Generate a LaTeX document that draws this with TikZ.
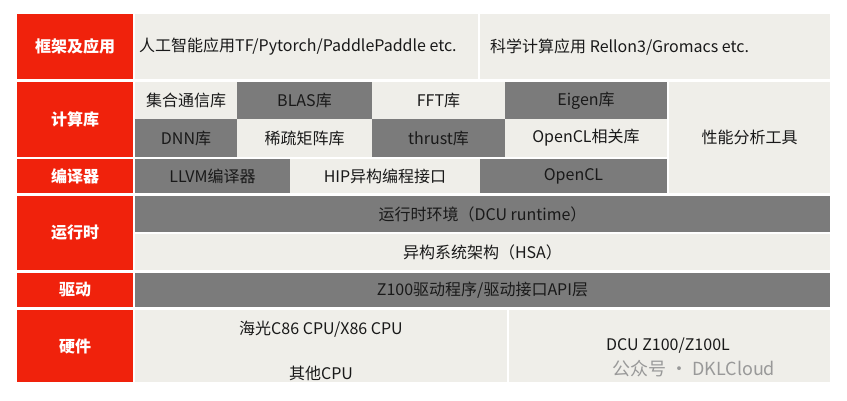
\documentclass[tikz,border=0pt]{standalone}
\usepackage{fontspec}
\setmainfont{Noto Sans CJK SC}
\usetikzlibrary{calc}
\definecolor{hdred}{HTML}{F0220C}
\definecolor{dkgray}{HTML}{7B7B7B}
\definecolor{ltgray}{HTML}{EFEEE9}
\tikzset{
    cell/.style={inner sep=0pt, font=\fontsize{16}{18}\selectfont, text=black!90},
    dark/.style={cell, fill=dkgray},
    light/.style={cell, fill=ltgray},
    head/.style={cell, fill=hdred, text=white, font=\fontsize{16}{18}\selectfont\bfseries},
}
% \cell{name}{style}{x1}{y1}{x2}{y2}{text}
\newcommand\cell[7]{%
    \node[#2, minimum width=#5-#3, minimum height=#6-#4] (#1)
        at ({(#3+#5)/2},{(#4+#6)/2}) {#7};}

\begin{document}
\begin{tikzpicture}[x=1pt, y=-1pt]
    \useasboundingbox[fill=white] (0,0) rectangle (847,400);

    % left column
    \cell{hApp}{head}{17}{14}{133}{79}{框架及应用}
    \cell{hLib}{head}{17}{82}{133}{157}{计算库}
    \cell{hCmp}{head}{17}{159}{133}{193}{编译器}
    \cell{hRt}{head}{17}{196}{133}{270}{运行时}
    \cell{hDrv}{head}{17}{273}{133}{307}{驱动}
    \cell{hHw}{head}{17}{310}{133}{382}{硬件}

    % frameworks
    \cell{ai}{light}{135}{14}{478}{79}{}
    \node[cell, anchor=west] (aiT) at (139,47) {人工智能应用TF/Pytorch/PaddlePaddle etc.};
    \cell{sci}{light}{480}{14}{830}{79}{}
    \node[cell, anchor=west] (sciT) at (490,47) {科学计算应用 Rellon3/Gromacs etc.};

    % libraries
    \cell{coll}{light}{135}{82}{237}{119}{集合通信库}
    \cell{blas}{dark}{237}{82}{372}{119}{BLAS库}
    \cell{fft}{light}{372}{82}{505}{119}{FFT库}
    \cell{eigen}{dark}{505}{82}{667}{119}{Eigen库}
    \cell{dnn}{dark}{135}{119}{237}{157}{DNN库}
    \cell{sparse}{light}{237}{119}{372}{157}{稀疏矩阵库}
    \cell{thrust}{dark}{372}{119}{505}{157}{thrust库}
    \cell{oclLib}{light}{505}{119}{667}{157}{OpenCL相关库}
    \cell{prof}{light}{669}{82}{830}{193}{性能分析工具}

    % compilers
    \cell{llvm}{dark}{135}{159}{290}{193}{LLVM编译器}
    \cell{hip}{light}{290}{159}{480}{193}{HIP异构编程接口}
    \cell{ocl}{dark}{480}{159}{667}{193}{OpenCL}

    % runtime, driver
    \cell{dcuRt}{dark}{135}{196}{830}{232}{运行时环境（DCU runtime）}
    \cell{hsa}{light}{135}{234}{830}{270}{异构系统架构（HSA）}
    \cell{drv}{dark}{135}{273}{830}{307}{Z100驱动程序/驱动接口API层}

    % hardware
    \cell{cpu}{light}{135}{310}{507}{382}{}
    \node[cell] (cpuA) at (321,329) {海光C86 CPU/X86 CPU};
    \node[cell] (cpuB) at (321,373) {其他CPU};
    \cell{dcu}{light}{509}{310}{830}{382}{}
    \node[cell] (dcuT) at (668,346) {DCU Z100/Z100L};
    \node[cell, text=black!40, font=\fontsize{18}{20}\selectfont, anchor=west] (wm) at (612,369) {公众号 · DKLCloud};
\end{tikzpicture}
\end{document}
